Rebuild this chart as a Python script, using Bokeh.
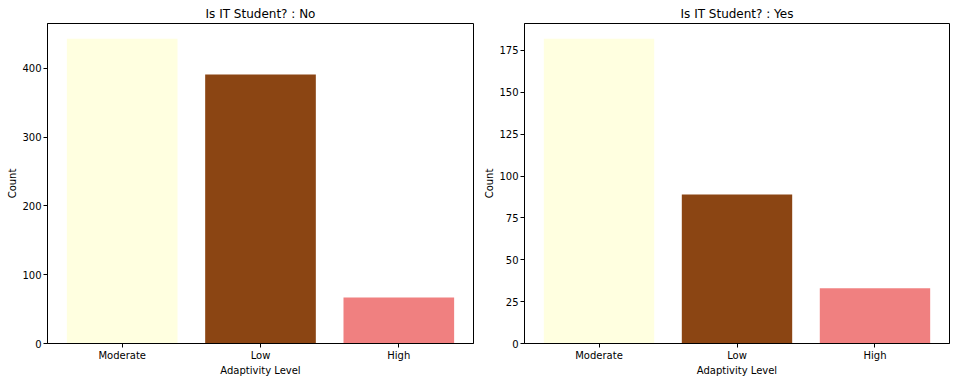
from bokeh.plotting import figure
from bokeh.models import Range1d, FactorRange, SingleIntervalTicker, ColumnDataSource
from bokeh.layouts import row
from bokeh.embed import file_html
from bokeh.resources import INLINE

levels = ["Moderate", "Low", "High"]
colors = ["#FFFFE0", "#8B4513", "#F08080"]
counts_no = [443, 391, 67]
counts_yes = [182, 89, 33]
titles = ["Is IT Student? : No", "Is IT Student? : Yes"]
tick_steps = [100, 25]

FONT = "DejaVu Sans"


def make_fig(title, counts, step, width, border_left, border_right):
    src = ColumnDataSource(dict(level=levels, count=counts, color=colors))
    p = figure(
        width=width, height=381,
        x_range=FactorRange(*levels, range_padding=0.08 / 3),
        y_range=Range1d(0, max(counts) * 1.05),
        output_backend="svg", toolbar_location=None, tools="",
        min_border_left=border_left, min_border_right=border_right,
        min_border_top=23, min_border_bottom=38,
    )
    p.vbar(x="level", top="count", width=0.8, color="color", line_color=None, source=src)

    p.title.text = title
    p.title.align = "center"
    p.title.text_font = FONT
    p.title.text_font_size = "12px"
    p.title.text_font_style = "normal"
    p.title.text_color = "black"
    p.title.text_line_height = 1.0
    p.title.standoff = 6

    p.outline_line_color = "black"
    p.outline_line_width = 1
    p.outline_line_alpha = 1
    p.xgrid.visible = False
    p.ygrid.visible = False
    p.background_fill_color = "white"
    p.border_fill_color = "white"

    p.yaxis.ticker = SingleIntervalTicker(interval=step)
    p.xaxis.axis_label = "Adaptivity Level"
    p.yaxis.axis_label = "Count"
    for ax in (p.xaxis, p.yaxis):
        ax.axis_line_color = "black"
        ax.major_tick_line_color = "black"
        ax.major_tick_out = 4
        ax.major_tick_in = 0
        ax.minor_tick_line_color = None
        ax.major_label_text_font = FONT
        ax.major_label_text_font_size = "10px"
        ax.major_label_text_color = "black"
        ax.major_label_text_line_height = 1.0
        ax.major_label_standoff = 2
        ax.axis_label_text_font = FONT
        ax.axis_label_text_font_size = "10px"
        ax.axis_label_text_font_style = "normal"
        ax.axis_label_text_color = "black"
        ax.axis_label_text_line_height = 1.0
        ax.axis_label_standoff = 1
    p.yaxis.major_label_orientation = "horizontal"
    return p


p1 = make_fig(titles[0], counts_no, tick_steps[0], 478, 47, 5)
p2 = make_fig(titles[1], counts_yes, tick_steps[1], 478, 46, 7)

layout = row(p1, p2, spacing=0)
open("out.html", "w").write(file_html(layout, INLINE))
